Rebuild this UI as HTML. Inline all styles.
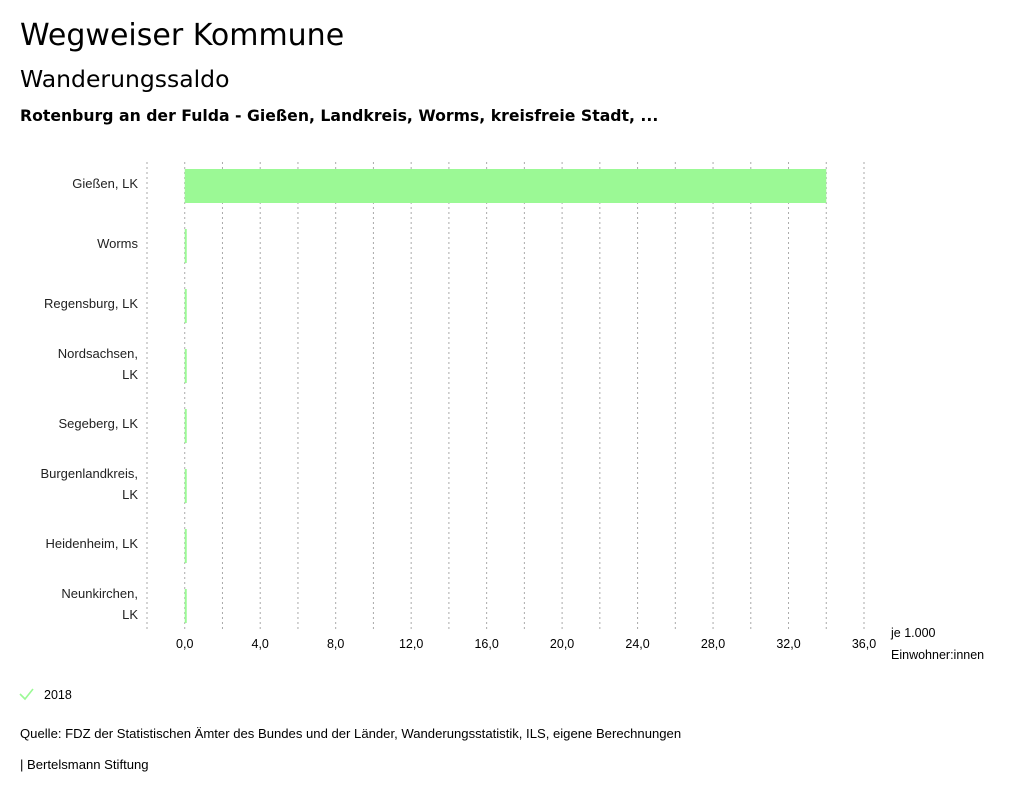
<!DOCTYPE html>
<html><head><meta charset="utf-8"><style>
body{margin:0;width:1024px;height:797px;background:#fff;overflow:hidden;font-family:"Liberation Sans",sans-serif;color:#000}
.t{position:absolute;font-family:"DejaVu Sans",sans-serif;white-space:nowrap}
</style></head><body>
<div class="t" style="left:20px;top:18px;font-size:30px">Wegweiser Kommune</div>
<div class="t" style="left:20px;top:65px;font-size:23.5px">Wanderungssaldo</div>
<div class="t" style="left:20px;top:106px;font-size:15.7px;font-weight:bold">Rotenburg an der Fulda - Gießen, Landkreis, Worms, kreisfreie Stadt, ...</div>
<svg id="chart" width="1024" height="797" style="position:absolute;left:0;top:0"></svg>
<script>
const categories=[["Gießen, LK"],["Worms"],["Regensburg, LK"],["Nordsachsen,","LK"],["Segeberg, LK"],["Burgenlandkreis,","LK"],["Heidenheim, LK"],["Neunkirchen,","LK"]];
const values2018=[34.0,0.1,0.1,0.1,0.1,0.1,0.1,0.1];
const tickValues=[0,4,8,12,16,20,24,28,32,36];
const tickLabels=["0,0","4,0","8,0","12,0","16,0","20,0","24,0","28,0","32,0","36,0"];
const xMin=-2,xMax=36,x0px=147,x1px=864;
const x=v=>x0px+(v-xMin)/(xMax-xMin)*(x1px-x0px);
const y=i=>186+i*60;
const svg=document.getElementById('chart');
const NS='http://www.w3.org/2000/svg';
function mk(t,a){const e=document.createElementNS(NS,t);for(const k in a)e.setAttribute(k,a[k]);svg.appendChild(e);return e;}
for(let v=xMin;v<=xMax;v+=2){
 const l=mk('line',{x1:x(v),x2:x(v),y1:162,y2:632,stroke:'#aaa','stroke-dasharray':'2,3','stroke-width':1});
 
 
}
tickValues.forEach((v,i)=>{
 const t=mk('text',{x:x(v),y:648,'text-anchor':'middle','font-size':12.5,fill:'#000'});
 t.textContent=tickLabels[i];
 
 
});
categories.forEach((c,i)=>{
 const yc=y(i);
 c.forEach((line,j)=>{
  const t=mk('text',{x:138,y:(c.length===1?yc+2:yc-8+j*21),'text-anchor':'end','font-size':13,fill:'#222'});
  t.textContent=line;
  
  
 });
 const v=values2018[i];
 const r=mk('rect',{x:Math.min(x(0),x(v)),y:yc-17,width:Math.max(2,Math.abs(x(v)-x(0))),height:34,fill:'#9bf995'});
 
 
});
const u1=mk('text',{x:891,y:637,'font-size':12.5,fill:'#000'});u1.textContent='je 1.000';


const u2=mk('text',{x:891,y:659,'font-size':12.5,fill:'#000'});u2.textContent='Einwohner:innen';


const ck=mk('path',{d:'M20 694 L25 699 L33 689',stroke:'#9bf995','stroke-width':1.6,fill:'none'});


const lg=mk('text',{x:44,y:699,'font-size':12.5,fill:'#000'});lg.textContent='2018';


const s=mk('text',{x:20,y:738,'font-size':13.1,fill:'#000'});s.textContent='Quelle: FDZ der Statistischen Ämter des Bundes und der Länder, Wanderungsstatistik, ILS, eigene Berechnungen';


const b=mk('text',{x:20,y:769,'font-size':13.1,fill:'#000'});b.textContent='| Bertelsmann Stiftung';


</script>
</body></html>
